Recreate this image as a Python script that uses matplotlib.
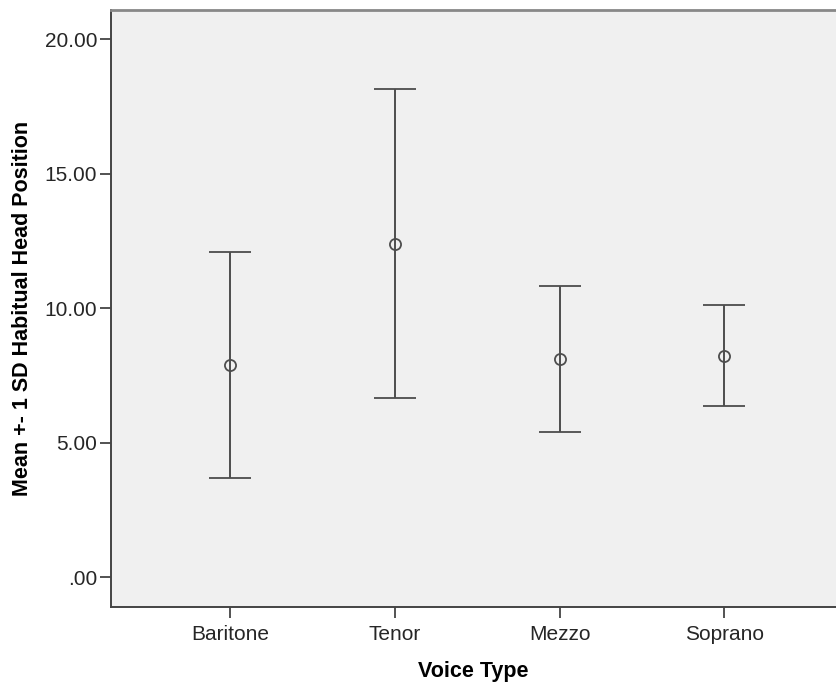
import numpy as np
import matplotlib.pyplot as plt

plt.rcParams['font.family'] = ['Liberation Sans', 'DejaVu Sans']

# mean and 1 SD per voice type
voice_types = ["Baritone", "Tenor", "Mezzo", "Soprano"]
means = [7.90, 12.39, 8.12, 8.24]
sds = [4.20, 5.74, 2.72, 1.87]
y_ticks = [0, 5, 10, 15, 20]
y_tick_labels = [".00", "5.00", "10.00", "15.00", "20.00"]


def main():
    fig = plt.figure(figsize=(8.36, 6.84), dpi=100)
    ax = fig.add_axes([0.1328, 0.1126, 0.8672, 0.8728])
    ax.set_facecolor('#f0f0f0')

    x = np.arange(len(voice_types))
    ax.errorbar(x, means, yerr=sds, fmt='o', color='#4d4d4d',
                ecolor='#4d4d4d', elinewidth=1.4, capsize=14.8,
                capthick=1.4, markersize=8, markerfacecolor='none',
                markeredgewidth=1.3)

    ax.set_xlim(-0.725, 3.68)
    ax.set_ylim(-1.1, 21.08)
    ax.set_xticks(x)
    ax.set_xticklabels(voice_types)
    ax.set_yticks(y_ticks)
    ax.set_yticklabels(y_tick_labels)
    ax.tick_params(length=8, width=1.3, color='#444444', labelsize=15,
                   labelcolor='#262626', pad=2)
    ax.tick_params(axis='x', pad=5)

    for side in ['left', 'bottom']:
        ax.spines[side].set_color('#444444')
        ax.spines[side].set_linewidth(1.4)
    ax.spines['top'].set_color('#888888')
    ax.spines['top'].set_linewidth(2)
    ax.spines['right'].set_visible(False)

    ax.set_xlabel("Voice Type", fontsize=15.5, fontweight='bold', labelpad=12)
    ax.set_ylabel("Mean +- 1 SD Habitual Head Position", fontsize=15.5,
                  fontweight='bold', labelpad=8)

    fig.savefig("out.png", dpi=100)


main()
